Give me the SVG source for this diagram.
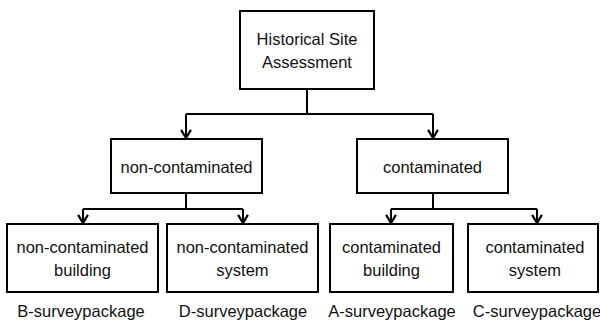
<svg xmlns="http://www.w3.org/2000/svg" width="600" height="327" viewBox="0 0 600 327">
<style>
.box{fill:#fff;stroke:#000;stroke-width:2}
.t{font-family:"Liberation Sans",Arial,sans-serif;font-size:16.5px;fill:#111;text-anchor:middle}
.c{fill:none;stroke:#000;stroke-width:2}
</style>
<defs>
<marker id="arr" markerUnits="userSpaceOnUse" markerWidth="12" markerHeight="14" viewBox="-1 -1 11 12" refX="8.5" refY="5" orient="auto">
<path d="M1,0.5 L8.5,5 L1,9.5" fill="none" stroke="#000" stroke-width="2"/>
</marker>
</defs>
<rect width="600" height="327" fill="#fff"/>
<g id="connectors">
<path class="c" d="M307 89 V114 M186 114 H433"/>
<path class="c" d="M186 114 V138" marker-end="url(#arr)"/>
<path class="c" d="M433 114 V138" marker-end="url(#arr)"/>
<path class="c" d="M186 193 V209 M83 209 H243"/>
<path class="c" d="M83 209 V223" marker-end="url(#arr)"/>
<path class="c" d="M243 209 V223" marker-end="url(#arr)"/>
<path class="c" d="M433 193 V209 M391 209 H537"/>
<path class="c" d="M391 209 V223" marker-end="url(#arr)"/>
<path class="c" d="M537 209 V223" marker-end="url(#arr)"/>
</g>
<g id="root">
<rect class="box" x="240" y="11" width="134" height="78"/>
<text class="t" x="307" y="45">Historical Site</text>
<text class="t" x="307" y="68">Assessment</text>
</g>
<g id="non-contaminated">
<rect class="box" x="111" y="139" width="151" height="54"/>
<text class="t" x="186.5" y="173">non-contaminated</text>
</g>
<g id="contaminated">
<rect class="box" x="357" y="139" width="151" height="54"/>
<text class="t" x="432.5" y="173">contaminated</text>
</g>
<g id="nc-building">
<rect class="box" x="7" y="224" width="151" height="68"/>
<text class="t" x="82.5" y="253">non-contaminated</text>
<text class="t" x="82.5" y="276">building</text>
</g>
<g id="nc-system">
<rect class="box" x="167" y="224" width="151" height="68"/>
<text class="t" x="242.5" y="253">non-contaminated</text>
<text class="t" x="242.5" y="276">system</text>
</g>
<g id="c-building">
<rect class="box" x="330" y="224" width="123" height="68"/>
<text class="t" x="391.5" y="253">contaminated</text>
<text class="t" x="391.5" y="276">building</text>
</g>
<g id="c-system">
<rect class="box" x="468" y="224" width="130" height="68"/>
<text class="t" x="535" y="253">contaminated</text>
<text class="t" x="535" y="276">system</text>
</g>
<g id="labels">
<text class="t" x="81" y="317">B-surveypackage</text>
<text class="t" x="243" y="317">D-surveypackage</text>
<text class="t" x="392" y="317">A-surveypackage</text>
<text class="t" x="537" y="317">C-surveypackage</text>
</g>
</svg>
